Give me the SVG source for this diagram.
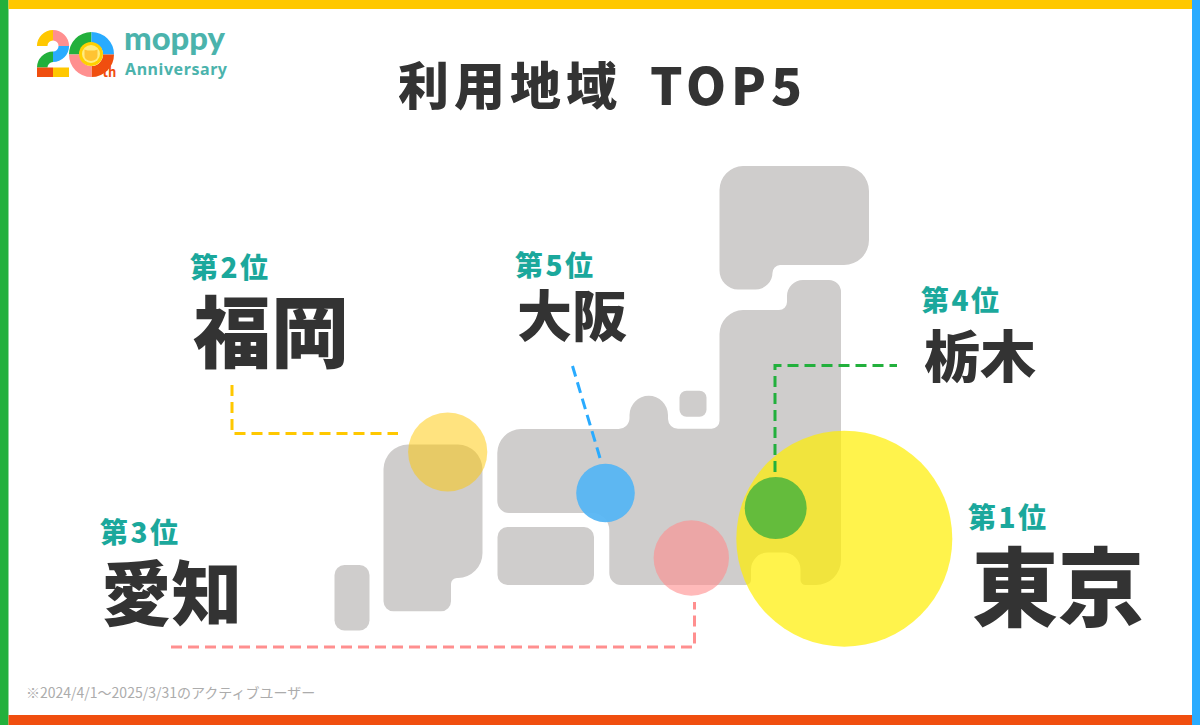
<svg xmlns="http://www.w3.org/2000/svg" width="1200" height="725" viewBox="0 0 1200 725">
<style>
text{font-family:"Noto Sans CJK JP","Noto Sans",sans-serif;font-weight:900;fill:#333}
.rank{fill:#1BA89C;font-size:28px;letter-spacing:2.500px}
.dash{fill:none;stroke-width:3;stroke-dasharray:11 6}
.land{fill:#CFCDCC}
.seg{fill:none;stroke-width:10.500}
.ring{fill:none;stroke-width:11}
</style>
<rect width="1200" height="725" fill="#fff"/>
<g id="frame">
<rect x="0" y="0" width="8.500" height="725" fill="#22B03C"/>
<rect x="1192" y="0" width="8" height="725" fill="#29ABFF"/>
<rect x="8.500" y="0" width="1183.500" height="9" fill="#FFC800"/>
<rect x="8.500" y="715" width="1183.500" height="10" fill="#F04E0F"/>
</g>
<g id="logo">
<path class="seg" stroke="#FFC800" d="M42.200 46A10.800 10.800 0 0 1 53 35.200"/>
<path class="seg" stroke="#FF8F8F" d="M53 35.200A10.800 10.800 0 0 1 63.800 46"/>
<path class="seg" stroke="#29ABFF" d="M63.800 46A10.800 10.800 0 0 1 53 56.800"/>
<path class="seg" stroke="#22B03C" d="M53 56.800A10.800 10.800 0 0 0 42.200 67.600"/>
<rect x="37" y="67.500" width="16" height="9.500" fill="#F04E0F"/>
<rect x="53" y="67.500" width="16" height="9.500" fill="#FFC800"/>
<path class="ring" stroke="#22B03C" d="M74.500 54.500A17 17 0 0 1 91.500 37.500"/>
<path class="ring" stroke="#29ABFF" d="M91.500 37.500A17 17 0 0 1 108.500 54.500"/>
<path class="ring" stroke="#F04E0F" d="M108.500 54.500A17 17 0 0 1 91.500 71.500"/>
<path class="ring" stroke="#FF8F8F" d="M91.500 71.500A17 17 0 0 1 74.500 54.500"/>
<circle cx="91" cy="54" r="12" fill="#FFD000"/>
<circle cx="91" cy="54" r="9" fill="#FFEC80"/>
<path d="M84.500 56V49.500L87.500 50.500H94.500L97.500 49.500V56A6.500 5 0 0 1 84.500 56Z" fill="#FFC332"/>
<text x="102.500" y="77" style="fill:#F04E0F;font-size:13px;font-weight:700">th</text>
<text x="124" y="50" style="fill:#4BB3AC;font-size:32px;font-family:'Lato',sans-serif" textLength="101" lengthAdjust="spacingAndGlyphs">moppy</text>
<text x="125" y="75" style="fill:#4BB3AC;font-size:16px;font-weight:700;font-family:'Noto Sans',sans-serif" textLength="102">Anniversary</text>
</g>
<text id="title" x="398" y="105" style="font-size:51px;letter-spacing:5px">利用地域 <tspan x="650">TOP5</tspan></text>
<g id="japan">
<path id="hokkaido" class="land" d="M743 166H844A25 25 0 0 1 869 191V240A25 25 0 0 1 844 265H780A8 8 0 0 0 772.500 273V272A17 17 0 0 1 755.500 289.500H738A19 19 0 0 1 719.500 270.500V190A24 24 0 0 1 743 166Z"/>
<path id="honshu" class="land" d="M803 280H829A12 12 0 0 1 841 292V560A25 25 0 0 1 816 585H806A5 5 0 0 1 800.500 580V570A17 17 0 0 0 783 552.500H768A17 17 0 0 0 751 570V580A5 5 0 0 1 746 585H621A12 12 0 0 1 609.300 573V530A17 17 0 0 0 592 513H509A12 12 0 0 1 497.300 501V453A24 24 0 0 1 521 429H618A11 11 0 0 0 629.500 418V415A19 19 0 0 1 668 415V419A10 10 0 0 0 678 428.700H711A8 8 0 0 0 719.500 420V334A24 24 0 0 1 743 310H779A8 8 0 0 0 787 302V296A16 16 0 0 1 803 280Z"/>
<path id="kyushu" class="land" d="M408 444.500H458A25 25 0 0 1 482.500 469V553A25 25 0 0 1 458 578H457A6 6 0 0 0 451 584V601A10 10 0 0 1 441 611.300H394A10 10 0 0 1 383.500 601V469A25 25 0 0 1 408 444.500Z"/>
<rect id="okinawa" class="land" x="334.500" y="565" width="35" height="65.500" rx="10"/>
<rect id="shikoku" class="land" x="497.500" y="527" width="96.500" height="58" rx="10"/>
<rect id="sado" class="land" x="679.500" y="390.700" width="27" height="26" rx="7"/>
</g>
<g id="tokyo"><circle cx="844.300" cy="538.700" r="108" fill="#FFEE00" fill-opacity=".7"/>
<text class="rank" x="968" y="528">第1位</text><text x="972" y="620" style="font-size:86px">東京</text></g>
<g id="fukuoka"><circle cx="447.700" cy="452" r="39.600" fill="#FFC800" fill-opacity=".5"/>
<text class="rank" x="190" y="278">第2位</text><text x="193" y="362" style="font-size:78px">福岡</text></g>
<g id="aichi"><circle cx="691.300" cy="558" r="37.700" fill="#FF8C8C" fill-opacity=".6"/>
<text class="rank" x="100" y="543">第3位</text><text x="101" y="620" style="font-size:70.500px">愛知</text></g>
<g id="tochigi"><circle cx="775.700" cy="508" r="31" fill="#64BC3C"/>
<text class="rank" x="921" y="311">第4位</text><text x="924" y="377" style="font-size:56px">栃木</text></g>
<g id="osaka"><circle cx="605.500" cy="493" r="29.300" fill="#56B5F3" fill-opacity=".95"/>
<text class="rank" x="515" y="276">第5位</text><text x="517" y="336" style="font-size:55px">大阪</text></g>
<g id="connectors">
<path class="dash" stroke="#FFC800" d="M232 385V433.500H398"/>
<path class="dash" stroke="#29ABFF" d="M572.500 366L600 458"/>
<path class="dash" stroke="#22B03C" d="M775 472V365.500H897"/>
<path class="dash" stroke="#FF8F8F" d="M171 647H694.500V602"/>
</g>
<text id="note" x="26" y="698" style="font-size:14px;font-weight:400;fill:#ACACAC">※2024/4/1～2025/3/31のアクティブユーザー</text>
</svg>
